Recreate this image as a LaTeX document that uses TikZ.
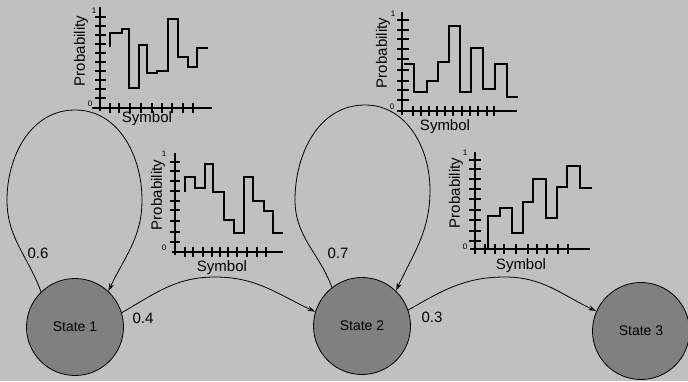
\documentclass[tikz,border=0pt]{standalone}
\usepackage{fontspec}
\setmainfont{Liberation Sans}
\usetikzlibrary{arrows.meta}
\definecolor{bggray}{HTML}{C0C0C0}
\definecolor{stategray}{HTML}{808080}
\begin{document}
\begin{tikzpicture}[x = 1pt, y = 1pt,
    state/.style = {circle, draw, line width = 0.8pt, fill = stategray, minimum size = 97pt, inner sep = 0pt, font = \fontsize{14}{16}\selectfont},
    lbl/.style = {inner sep = 0pt, font = \fontsize{15}{17}\selectfont},
    tiny/.style = {inner sep = 0pt, font = \fontsize{8}{9}\selectfont},
    chart/.style = {line width = 1.7pt},
    trans/.style = {line width = 0.8pt, -{Stealth[length = 8pt, width = 5pt, open]}}]
    \useasboundingbox (0, 0) rectangle (688, 381);
    \fill [bggray] (0, 0) rectangle (688, 381);

    \node [state] (s1) at (75, 54) {State 1};
    \node [state] (s2) at (362, 55) {State 2};
    \node [state] (s3) at (641, 50) {State 3};

    \draw [trans] (s1.134) to [out = 110, in = -90] (7, 181) to [out = 90, in = 180] (75, 271)
        to [out = 0, in = 90] (142, 181) to [out = -90, in = 65] (s1.47);
    \draw [trans] (s2.128) to [out = 110, in = -90] (295, 181) to [out = 90, in = 180] (365, 276)
        to [out = 0, in = 90] (430, 191) to [out = -90, in = 65] (s2.46);
    \draw [trans] (s1.17) to [out = 30, in = 180] (215, 104) to [out = 0, in = 155] (s2.163);
    \draw [trans] (s2.19) to [out = 30, in = 180] (505, 104) to [out = 0, in = 155] (s3.156);

    \node [lbl] (p11) at (38, 128) {0.6};
    \node [lbl] (p12) at (143, 63) {0.4};
    \node [lbl] (p22) at (338, 128) {0.7};
    \node [lbl] (p23) at (432, 64) {0.3};

    % emission of state 1
    \draw [chart] (100, 270) -- (100, 374);
    \draw [chart] (92, 273) -- (212, 273);
    \foreach \y in {283, 292, 301, 310, 319, 328, 337, 346, 355, 364}
        \draw [chart] (95, \y) -- (106, \y);
    \foreach \x in {110, 119, 130, 141, 152, 162, 172, 183, 193}
        \draw [chart] (\x, 268) -- (\x, 278);
    \draw [chart] (110, 334) |- (122, 348) |- (129, 352) |- (139, 293) |- (147, 336) |- (157, 308)
        |- (168, 310) |- (178, 362) |- (188, 324) |- (197, 314) |- (208, 333);
    \node [lbl, rotate = 90] (py1) at (81, 330) {Probability};
    \node [lbl] (sx1) at (147, 262) {Symbol};
    \node [tiny] (one1) at (94, 370) {1};
    \node [tiny] (zero1) at (90, 277) {0};

    % emission of state 2 (top)
    \draw [chart] (402, 266) -- (402, 369);
    \draw [chart] (397, 270) -- (517, 270);
    \foreach \y in {281, 291, 300, 311, 322, 332, 342, 351, 361}
        \draw [chart] (397, \y) -- (409, \y);
    \foreach \x in {413, 421, 429, 437, 445, 453, 462, 470, 478, 487, 494}
        \draw [chart] (\x, 265) -- (\x, 275);
    \draw [chart] (404, 317) -- (414, 317) |- (427, 289) |- (438, 300) |- (449, 319) |- (460, 355)
        |- (471, 289) |- (483, 333) |- (495, 292) |- (507, 317) |- (518, 284);
    \node [lbl, rotate = 90] (py2) at (383, 328) {Probability};
    \node [lbl] (sx2) at (445, 254) {Symbol};
    \node [tiny] (one2) at (393, 367) {1};
    \node [tiny] (zero2) at (392, 274) {0};

    % emission of state 1 (bottom)
    \draw [chart] (175, 126) -- (175, 228);
    \draw [chart] (172, 129) -- (283, 129);
    \foreach \y in {139, 149, 160, 171, 180, 190, 200, 210, 219}
        \draw [chart] (170, \y) -- (180, \y);
    \foreach \x in {185, 193, 203, 212, 220, 228, 237, 247, 257, 266}
        \draw [chart] (\x, 124) -- (\x, 134);
    \draw [chart] (185, 189) |- (195, 204) |- (205, 193) |- (213, 217) |- (224, 189) |- (234, 161)
        |- (244, 148) |- (253, 204) |- (264, 180) |- (273, 170) |- (283, 148);
    \node [lbl, rotate = 90] (py3) at (158, 186) {Probability};
    \node [lbl] (sx3) at (222, 113) {Symbol};
    \node [tiny] (one3) at (164, 227) {1};
    \node [tiny] (zero3) at (164, 133) {0};

    % emission of state 2 (bottom)
    \draw [chart] (475, 127) -- (475, 229);
    \draw [chart] (470, 132) -- (590, 132);
    \foreach \y in {140, 150, 161, 171, 182, 192, 202, 212, 221}
        \draw [chart] (469, \y) -- (481, \y);
    \foreach \x in {485, 495, 504, 516, 528, 537, 547, 558, 568}
        \draw [chart] (\x, 127) -- (\x, 137);
    \draw [chart] (488, 132) |- (500, 165) |- (512, 173) |- (523, 148) |- (533, 179) |- (546, 202)
        |- (557, 163) |- (567, 194) |- (580, 215) |- (592, 193);
    \node [lbl, rotate = 90] (py4) at (456, 188) {Probability};
    \node [lbl] (sx4) at (521, 115) {Symbol};
    \node [tiny] (one4) at (465, 228) {1};
    \node [tiny] (zero4) at (465, 134) {0};
\end{tikzpicture}
\end{document}
